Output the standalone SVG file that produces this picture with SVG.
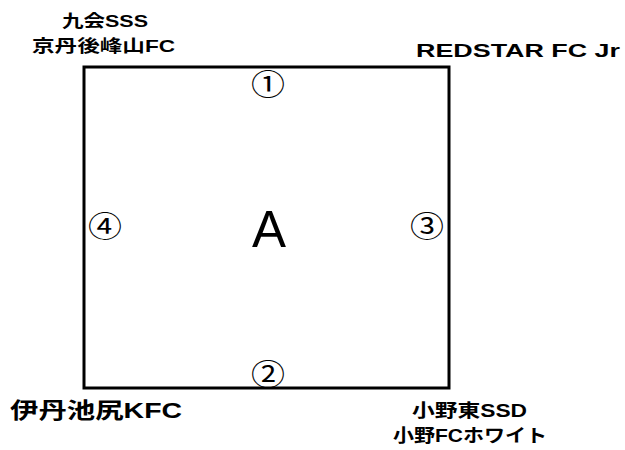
<svg xmlns="http://www.w3.org/2000/svg" width="625" height="450" viewBox="0 0 625 450">
<style>
.lbl{font-family:"Liberation Sans","Noto Sans CJK JP",sans-serif;font-weight:bold;fill:#000}
.num{font-family:"Noto Sans CJK JP","DejaVu Sans",sans-serif;font-size:34px;fill:#000;text-anchor:middle}
</style>
<rect width="625" height="450" fill="#fff"/>
<g id="field">
<rect x="84" y="67" width="365" height="321" fill="none" stroke="#000" stroke-width="3"/>
<text x="269" y="247" font-family="Liberation Sans,sans-serif" font-size="51" text-anchor="middle">A</text>
</g>
<g id="pos1" transform="translate(268,84.5) scale(1,0.86)"><text class="num" x="0" y="12.5">①</text></g>
<g id="pos2" transform="translate(268,374) scale(1,0.86)"><text class="num" x="0" y="12.5">②</text></g>
<g id="pos3" transform="translate(427,226) scale(1,0.86)"><text class="num" x="0" y="12.5">③</text></g>
<g id="pos4" transform="translate(105,226) scale(1,0.86)"><text class="num" x="0" y="12.5">④</text></g>
<g id="team-tl">
<text class="lbl" x="62" y="27" font-size="17" textLength="86" lengthAdjust="spacingAndGlyphs">九会SSS</text>
<text class="lbl" x="32" y="52" font-size="17" textLength="143" lengthAdjust="spacingAndGlyphs">京丹後峰山FC</text>
</g>
<g id="team-tr">
<text class="lbl" x="416" y="57" font-size="19" textLength="204" lengthAdjust="spacingAndGlyphs">REDSTAR FC Jr</text>
</g>
<g id="team-bl">
<text class="lbl" x="10" y="418" font-size="22" textLength="172" lengthAdjust="spacingAndGlyphs">伊丹池尻KFC</text>
</g>
<g id="team-br">
<text class="lbl" x="412" y="417" font-size="18" textLength="115" lengthAdjust="spacingAndGlyphs">小野東SSD</text>
<text class="lbl" x="393" y="442" font-size="18" textLength="154" lengthAdjust="spacingAndGlyphs">小野FCホワイト</text>
</g>
<g id="connectors"/>
</svg>
